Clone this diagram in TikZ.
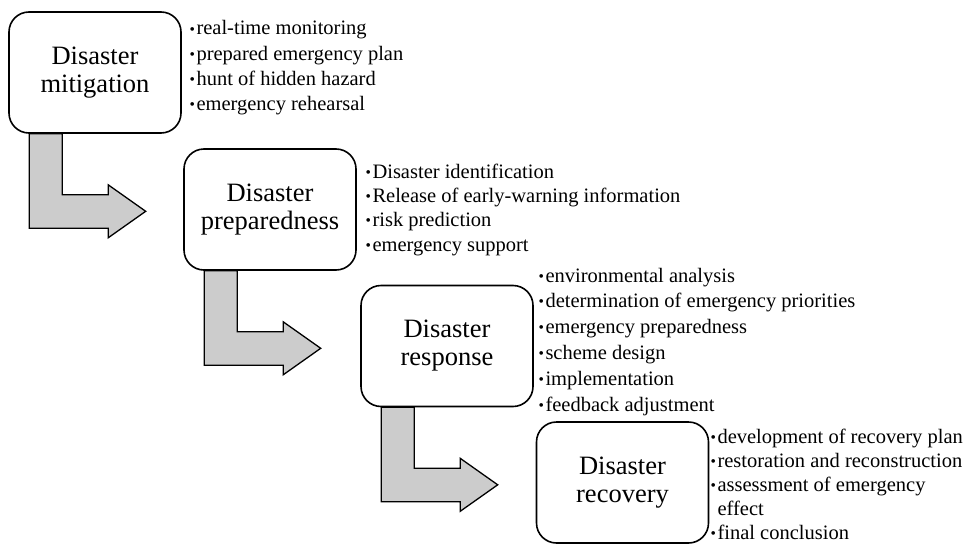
\documentclass[tikz,border=0pt]{standalone}
\usepackage{fontspec}
\setmainfont{Liberation Serif}
\usetikzlibrary{calc}
\pgfdeclarelayer{back}
\pgfsetlayers{back,main}

% bullet used in the lists, centred on the x-height
\newcommand\bul{\makebox[6.5pt][l]{\hspace{-0.5pt}\raisebox{0.1ex}{\scalebox{0.75}{•}}}}
% list of lines, aligned on the baseline of its first line
\newcommand\itemlist[2]{{\fontsize{20.5}{#1}\selectfont
  \begin{tabular}[t]{@{}l@{}}#2\end{tabular}}}

\tikzset{
  stage/.style={draw, line width=1.6pt, rounded corners=20pt, fill=white,
    minimum width=172pt, minimum height=121pt, align=center,
    font=\fontsize{26.5}{28}\selectfont, inner sep=0pt},
  itemtext/.style={anchor=base west, inner sep=0pt, outer sep=0pt},
  bentarrow/.style={draw, line width=1.3pt, fill=gray!40, line join=miter}
}

% bent block arrow leaving the bottom of a stage box
\newcommand\bentarrow[1]{%
  \begin{scope}[shift={(#1.south west)}]
    \path[bentarrow] (21,0) -- (54,0) -- (54,61) -- (100,61) -- (100,51)
      -- (137.5,77.5) -- (100,104) -- (100,94.5) -- (21,94.5) -- cycle;
  \end{scope}}

\begin{document}
\begin{tikzpicture}[x=1pt, y=-1pt]
  \useasboundingbox (0,0) rectangle (968,543);

  % stage boxes
  \node[stage] (mit) at (95,72.5)   {Disaster\\mitigation};
  \node[stage] (pre) at (270,209.5) {Disaster\\preparedness};
  \node[stage] (res) at (447,346)   {Disaster\\response};
  \node[stage] (rec) at (622.5,482.5) {Disaster\\recovery};

  % arrows from one stage to the next
  \begin{pgfonlayer}{back}
    \bentarrow{mit}
    \bentarrow{pre}
    \bentarrow{res}
  \end{pgfonlayer}

  % task lists of each stage
  \node[itemtext] (mitlist) at (190,35) {\itemlist{25.2}{%
    \bul real-time monitoring\\
    \bul prepared emergency plan\\
    \bul hunt of hidden hazard\\
    \bul emergency rehearsal}};

  \node[itemtext] (prelist) at (366,178) {\itemlist{24.4}{%
    \bul Disaster identification\\
    \bul Release of early-warning information\\
    \bul risk prediction\\
    \bul emergency support}};

  \node[itemtext] (reslist) at (539,282) {\itemlist{25.8}{%
    \bul environmental analysis\\
    \bul determination of emergency priorities\\
    \bul emergency preparedness\\
    \bul scheme design\\
    \bul implementation\\
    \bul feedback adjustment}};

  \node[itemtext] (reclist) at (711,443) {\itemlist{24}{%
    \bul development of recovery plan\\
    \bul restoration and reconstruction\\
    \bul assessment of emergency\\
    \hphantom{\bul}effect\\
    \bul final conclusion}};
\end{tikzpicture}
\end{document}
